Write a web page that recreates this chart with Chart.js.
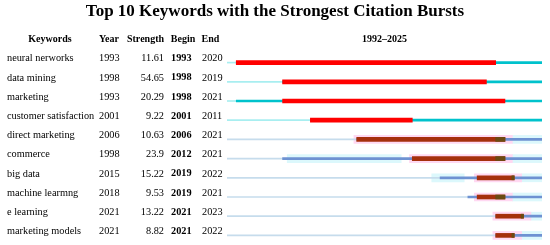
<!DOCTYPE html>
<html>
<head>
<meta charset="utf-8">
<script src="https://cdn.jsdelivr.net/npm/chart.js@4.4.1/dist/chart.umd.min.js"></script>
<style>
  html, body { margin: 0; padding: 0; background: #fff; }
  #wrap { width: 550px; height: 245px; position: relative; }
</style>
</head>
<body>
<div id="wrap"><canvas id="burstChart"></canvas></div>
<script>
// Datos de la tabla de ráfagas de citas
const keywords = ['neural nerworks', 'data mining', 'marketing', 'customer satisfaction', 'direct marketing',
    'commerce', 'big data', 'machine learmng', 'e learning', 'marketing models'];
const years = [1993, 1998, 1993, 2001, 2006, 1998, 2015, 2018, 2021, 2021];
const strengths = ['11.61', '54.65', '20.29', '9.22', '10.63', '23.9', '15.22', '9.53', '13.22', '8.82'];
const begins = [1993, 1998, 1998, 2001, 2006, 2012, 2019, 2019, 2021, 2021];
const ends = [2020, 2019, 2021, 2011, 2021, 2021, 2022, 2021, 2023, 2022];
const firstYear = 1992;
const lastYear = 2025;

const headers = ['Keywords', 'Year', 'Strength', 'Begin', 'End'];
const chartTitle = 'Top 10 Keywords with the Strongest Citation Bursts';

// primeras 4 filas en rojo / cian, el resto en marrón / azul
const isOld = i => i < 4;

const beforeData = years.map(y => [firstYear, y]);
const activeData = years.map(y => [y, lastYear + 1]);
const burstData = begins.map((b, i) => [b, ends[i] + 1]);
const pinkData = begins.map((b, i) => isOld(i) ? null : [b - 0.3, ends[i] + 1.8]);
// bandas celestes tenues (restos del render original)
const faintBand = keywords.map((k, i) => i === 5 ? [1998.5, 2010.8] : (i === 6 ? [2014.1, 2017.6] : null));
const afterBand = ends.map((e, i) => isOld(i) ? null : [e + 1.8, lastYear + 1]);
const capData = ends.map((e, i) => isOld(i) ? null : ([4, 5, 7].includes(i) ? [e, e + 1] : [e + 0.75, e + 1]));

const tablePlugin = {
    id: 'tablePlugin',
    afterDraw(chart) {
        const c = chart.ctx;
        const yScale = chart.scales.y;
        const area = chart.chartArea;
        c.save();
        c.fillStyle = '#000';
        c.textBaseline = 'middle';

        c.font = 'bold 17px "Liberation Serif"';
        c.textAlign = 'center';
        c.fillText(chartTitle, 275, 12);

        c.font = 'bold 10px "Liberation Serif"';
        c.fillText(headers[0], 50, 39);
        c.fillText(headers[1], 109, 39);
        c.fillText(headers[2], 145.5, 39);
        c.fillText(headers[3], 183, 39);
        c.fillText(headers[4], 210.5, 39);
        c.fillText(firstYear + '\u2013' + lastYear, (area.left + area.right) / 2, 39);

        const regular = '10.3px "Liberation Serif"';
        keywords.forEach((k, i) => {
            const y = yScale.getPixelForValue(i) - 4;
            c.font = regular;
            c.textAlign = 'left';
            c.fillText(k, 7, y);
            c.fillText(String(years[i]), 99, y);
            c.textAlign = 'right';
            c.fillText(strengths[i], 164, y);
            c.textAlign = 'left';
            c.font = 'bold 10.3px "Liberation Serif"';
            c.fillText(String(begins[i]), 171, y);
            c.font = regular;
            c.fillText(String(ends[i]), 202, y);
        });
        c.restore();
    }
};

new Chart(document.getElementById('burstChart'), {
    type: 'bar',
    data: {
        labels: keywords,
        datasets: [
            {
                data: capData,
                backgroundColor: '#6b4a12',
                barThickness: 4,
                order: 0
            },
            {
                data: burstData,
                backgroundColor: ctx => isOld(ctx.dataIndex) ? '#ff0000' : '#a5300c',
                barThickness: 4,
                order: 1
            },
            {
                data: activeData,
                backgroundColor: ctx => isOld(ctx.dataIndex) ? '#00c2cc' : '#6e92d2',
                barThickness: 2,
                order: 2
            },
            {
                data: beforeData,
                backgroundColor: ctx => isOld(ctx.dataIndex) ? '#a8eef0' : '#c6dcec',
                barThickness: 1,
                order: 3
            },
            {
                data: pinkData,
                backgroundColor: '#ffd8f2',
                barThickness: 8,
                order: 4
            },
            {
                data: afterBand,
                backgroundColor: '#dcf8fc',
                barThickness: 8,
                order: 5
            },
            {
                data: faintBand,
                backgroundColor: '#dcf8fc',
                barThickness: 8,
                order: 6
            }
        ]
    },
    options: {
        indexAxis: 'y',
        responsive: true,
        maintainAspectRatio: false,
        animation: false,
        layout: { padding: { top: 53, left: 227, right: 8, bottom: 0 } },
        datasets: { bar: { grouped: false, borderWidth: 0, borderSkipped: false } },
        scales: {
            x: { type: 'linear', min: firstYear, max: lastYear + 1, display: false },
            y: { type: 'category', display: false, offset: true }
        },
        plugins: {
            legend: { display: false },
            title: { display: false },
            tooltip: { enabled: false }
        }
    },
    plugins: [tablePlugin]
});
</script>
</body>
</html>
